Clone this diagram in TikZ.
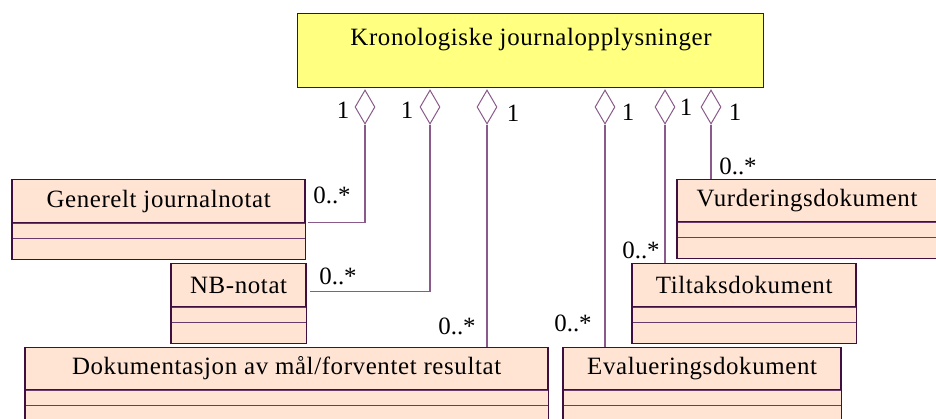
\documentclass[tikz,border=0pt]{standalone}
\usepackage{fontspec}
\setmainfont[LetterSpace=2.5]{Liberation Serif}
\newfontfamily\plainserif{Liberation Serif}
\usetikzlibrary{shapes.geometric,calc}
\definecolor{yel}{HTML}{FFFF80}
\definecolor{peach}{HTML}{FFE4D4}
\definecolor{bord}{HTML}{3F0F3F}
\definecolor{cline}{HTML}{8A5A8A}
\definecolor{comp}{HTML}{6A3A6A}
\tikzset{
  txt/.style={font=\fontsize{25}{27}\selectfont, inner sep=0pt},
  mult/.style={font=\plainserif\fontsize{25}{27}\selectfont, inner sep=0pt},
  mainbox/.style={draw=bord, fill=yel, line width=1.2bp, anchor=north west, inner sep=0pt},
  clsname/.style={draw=bord, fill=peach, line width=1.2bp, anchor=north west, inner sep=0pt, font=\fontsize{25}{27}\selectfont},
  compbox/.style={draw=comp, fill=peach, line width=1bp},
  agg/.style={diamond, draw=cline, fill=white, line width=1bp, inner sep=0pt, minimum width=20bp, minimum height=34bp, aspect=0.59},
  assoc/.style={draw=cline, line width=1.2bp},
}
\begin{document}
\begin{tikzpicture}[x=1bp,y=-1bp]
\useasboundingbox (0,0) rectangle (936,418);
\clip (0,0) rectangle (936,418);
% main class
\node[mainbox, minimum width=466bp, minimum height=74bp] (main) at (297,13) {};
\node[txt] (maint) at (531,40) {Kronologiske journalopplysninger};
% diamonds
\node[agg] (d1) at (365,107) {};
\node[agg] (d2) at (430,107) {};
\node[agg] (d3) at (487,107) {};
\node[agg] (d4) at (605,107) {};
\node[agg] (d5) at (665,107) {};
\node[agg] (d6) at (711,107) {};
% classes: name compartments
\node[clsname, minimum width=292bp, minimum height=43bp] (gen) at (12,179) {Generelt journalnotat};
\node[clsname, minimum width=134bp, minimum height=43bp] (nb) at (171,263) {NB-notat};
\node[clsname, minimum width=522bp, minimum height=42bp] (dok) at (25,347) {Dokumentasjon av mål/forventet resultat};
\node[clsname, minimum width=277bp, minimum height=42bp] (eva) at (563,347) {Evalueringsdokument};
\node[clsname, minimum width=223bp, minimum height=43bp] (til) at (632,263) {Tiltaksdokument};
\node[clsname, minimum width=259bp, minimum height=42bp] (vur) at (677,179) {Vurderingsdokument};
% lower compartments
\foreach \n in {gen,nb,dok,eva,til,vur}{
  \draw[compbox] (\n.south west) rectangle ($(\n.south east)+(0,15)$);
  \draw[compbox] ($(\n.south west)+(0,15)$) rectangle ($(\n.south east)+(0,36)$);
  \draw[draw=bord, line width=1.2bp] (\n.north west) -- ($(\n.south west)+(0,36)$) -- ($(\n.south east)+(0,36)$) -- (\n.north east);
}
% connectors
\draw[assoc] (d1.south) |- ($(gen.south east)+(3,-1)$);
\draw[assoc] (d2.south) |- ($(nb.east)+(4,6.5)$);
\draw[assoc] (d3.south) -- (d3.south |- dok.north);
\draw[assoc] (d4.south) -- (d4.south |- eva.north);
\draw[assoc] (d5.south) -- (d5.south |- til.north);
\draw[assoc] (d6.south) -- (d6.south |- vur.north);
% multiplicities
\node[mult] (m1) at (343,110) {1};
\node[mult] (m2) at (407,110) {1};
\node[mult] (m3) at (513,113) {1};
\node[mult] (m4) at (628,112) {1};
\node[mult] (m5) at (686,107) {1};
\node[mult] (m6) at (735,112) {1};
\node[mult] (n1) at (332,195) {0..*};
\node[mult] (n2) at (338,276) {0..*};
\node[mult] (n3) at (457,326) {0..*};
\node[mult] (n4) at (573,323) {0..*};
\node[mult] (n5) at (641,250) {0..*};
\node[mult] (n6) at (738,166) {0..*};
\end{tikzpicture}
\end{document}
